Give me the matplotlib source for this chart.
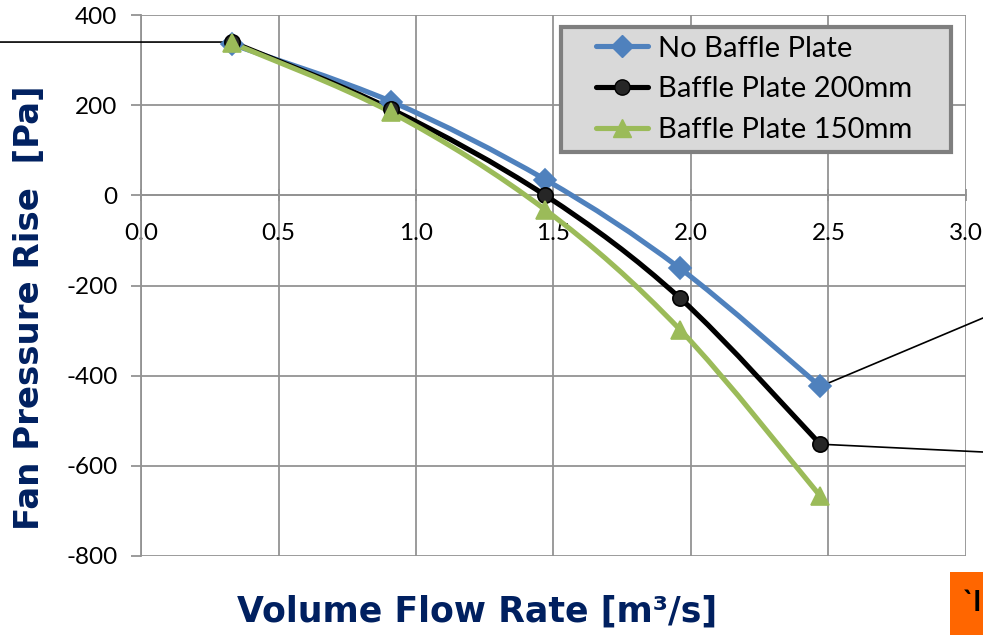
import numpy as np
import matplotlib.pyplot as plt
from matplotlib.path import Path
from matplotlib.patches import PathPatch, Rectangle
from matplotlib.lines import Line2D
from matplotlib.legend_handler import HandlerLine2D
from matplotlib.transforms import blended_transform_factory

# data
flow = [0.33, 0.91, 1.47, 1.96, 2.47]
no_baffle = [335, 208, 35, -162, -424]
baffle_200 = [340, 191, 0, -228, -552]
baffle_150 = [338, 184, -32, -298, -667]

series = [
    ("No Baffle Plate", no_baffle, "#4F81BD", "D", 11, "#4F81BD", "#4F81BD"),
    ("Baffle Plate 200mm", baffle_200, "#000000", "o", 11, "#262626", "#000000"),
    ("Baffle Plate 150mm", baffle_150, "#9BBB59", "^", 13, "#9BBB59", "#9BBB59"),
]

xticks = [0.0, 0.5, 1.0, 1.5, 2.0, 2.5, 3.0]
yticks = [-800, -600, -400, -200, 0, 200, 400]

navy = "#002060"
plt.rcParams['font.family'] = ['Lato', 'DejaVu Sans']
plt.rcParams['axes.unicode_minus'] = False


def smooth_path(x, y):
    # excel-like smoothed line: bezier segments through every point
    p = np.column_stack([x, y]).astype(float)
    n = len(p)
    verts = [p[0]]
    codes = [Path.MOVETO]
    for i in range(n - 1):
        p0 = p[i - 1] if i > 0 else p[i]
        p3 = p[i + 2] if i + 2 < n else p[i + 1]
        c1 = p[i] + (p[i + 1] - p0) / 6
        c2 = p[i + 1] - (p3 - p[i]) / 6
        verts += [c1, c2, p[i + 1]]
        codes += [Path.CURVE4] * 3
    return Path(verts, codes)


class ShiftedHandler(HandlerLine2D):
    # leaves some empty room left of the legend line
    def __init__(self, shift, **kw):
        super().__init__(**kw)
        self.shift = shift

    def create_artists(self, legend, orig_handle, xdescent, ydescent, width, height,
                       fontsize, trans):
        return super().create_artists(legend, orig_handle, xdescent - self.shift, ydescent,
                                      width - self.shift, height, fontsize, trans)


fig = plt.figure(figsize=(9.83, 6.35), dpi=100)
ax = fig.add_axes([141 / 983, 1 - 556 / 635, 825 / 983, 541 / 635])

handles = []
for name, vals, col, mk, ms, fc, ec in series:
    ax.add_patch(PathPatch(smooth_path(flow, vals), fill=False, edgecolor=col,
                           lw=3.7, capstyle='round', joinstyle='round', zorder=3))
    ax.plot(flow, vals, ls='none', marker=mk, ms=ms, mfc=fc, mec=ec, mew=1.2, zorder=4)
    handles.append(Line2D([], [], color=col, lw=3.7, marker=mk, ms=ms, mfc=fc, mec=ec,
                          solid_capstyle='round', label=name + "    "))

ax.set_xlim(0, 3.0)
ax.set_ylim(-800, 400)
ax.set_xticks(xticks)
ax.set_xticklabels([f"{t:.1f}" for t in xticks])
ax.set_yticks(yticks)
ax.grid(True, color='#939393', lw=1.3, zorder=0)
ax.set_axisbelow(True)

for s in ['top', 'right']:
    ax.spines[s].set_visible(False)
ax.spines['bottom'].set_position(('data', 0))
ax.spines['bottom'].set_color('#939393')
ax.spines['left'].set_color('#939393')
ax.spines['bottom'].set_linewidth(1.3)
ax.spines['left'].set_linewidth(1.3)
ax.tick_params(axis='y', direction='out', length=7, width=1.3, color='#939393',
               labelsize=17.5, pad=10)
ax.tick_params(axis='x', direction='inout', length=8, width=1.3, color='#939393',
               labelsize=17.5, pad=16)

leg = ax.legend(handles=handles, loc='upper left', bbox_to_anchor=(0.509, 0.978),
                fontsize=21, frameon=True, fancybox=False, handlelength=2.68,
                borderpad=0.3, labelspacing=0.5, handletextpad=0.35,
                borderaxespad=0, handler_map={Line2D: ShiftedHandler(19)})
leg.get_frame().set_facecolor('#D9D9D9')
leg.get_frame().set_edgecolor('#7F7F7F')
leg.get_frame().set_linewidth(3)
leg.get_frame().set_alpha(1)

# leader lines of data labels that sit outside the picture
fig_x_data_y = blended_transform_factory(fig.transFigure, ax.transData)
ax.annotate('', xy=(flow[0], baffle_200[0]), xytext=(0.0, baffle_200[0]),
            textcoords=fig_x_data_y, annotation_clip=False,
            arrowprops=dict(arrowstyle='-', color='black', lw=1.2, shrinkA=0, shrinkB=6))
ax.annotate('', xy=(flow[4], no_baffle[4]), xytext=(1.0, 1 - 318 / 635),
            textcoords='figure fraction', annotation_clip=False,
            arrowprops=dict(arrowstyle='-', color='black', lw=1.2, shrinkA=0, shrinkB=6))
ax.annotate('', xy=(flow[4], baffle_200[4]), xytext=(1.0, 1 - 452 / 635),
            textcoords='figure fraction', annotation_clip=False,
            arrowprops=dict(arrowstyle='-', color='black', lw=1.2, shrinkA=0, shrinkB=6))

fig.text(0.485, 1 - 612 / 635, "Volume Flow Rate [m³/s]", family='DejaVu Sans',
         fontweight='bold', fontsize=25, color=navy, ha='center', va='center')
fig.text(30 / 983, 1 - 308 / 635, "Fan Pressure Rise  [Pa]", family='DejaVu Sans',
         fontweight='bold', fontsize=24.5, color=navy, ha='center', va='center',
         rotation=90)

fig.patches.append(Rectangle((950 / 983, 0), 40 / 983, 63 / 635, transform=fig.transFigure,
                             facecolor='#FF6600', edgecolor='none'))
fig.text(963 / 983, 1 - 603 / 635, "`I", fontsize=20, fontweight='bold', color='black',
         ha='left', va='center')

fig.savefig('out.png', dpi=100)
